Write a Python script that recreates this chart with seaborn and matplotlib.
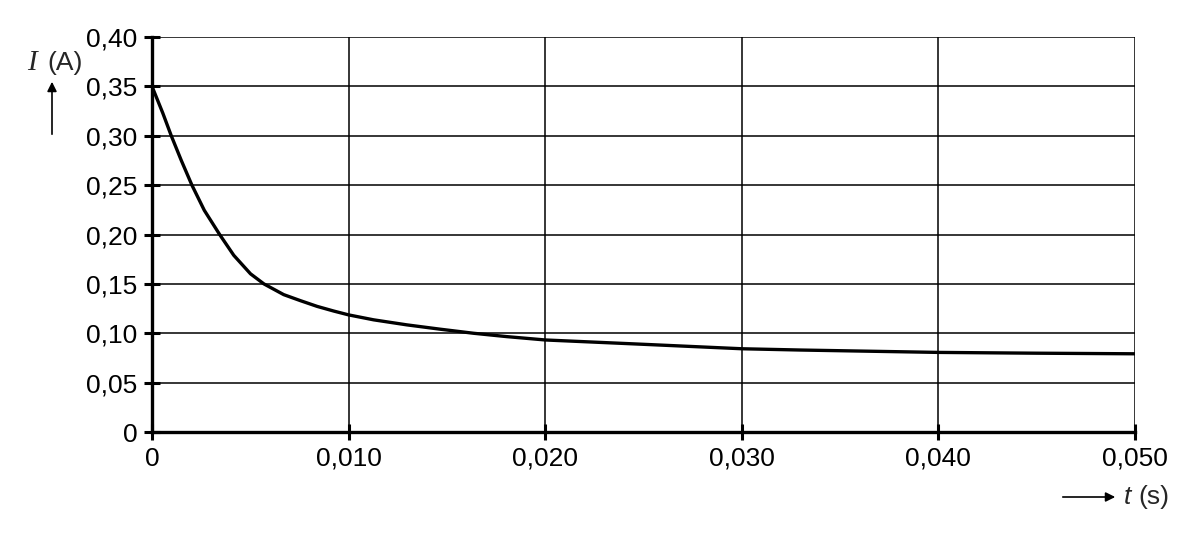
import numpy as np
import pandas as pd
import matplotlib
matplotlib.use("Agg")
import matplotlib.pyplot as plt
import seaborn as sns

# valores (tempo em s, corrente em A)
t_valores = [0.0, 0.00055, 0.00098, 0.00149, 0.00203, 0.00266, 0.00344, 0.00416,
             0.00501, 0.00569, 0.0067, 0.00755, 0.0084, 0.00924, 0.010, 0.01127,
             0.01296, 0.01466, 0.01635, 0.01804, 0.020, 0.025, 0.030, 0.033,
             0.040, 0.045, 0.050]
i_valores = [0.350, 0.3229, 0.300, 0.275, 0.250, 0.2245, 0.200, 0.1789,
             0.1602, 0.150, 0.1391, 0.1330, 0.1272, 0.1225, 0.1186, 0.1136,
             0.1085, 0.1041, 0.100, 0.0966, 0.0932, 0.0888, 0.0843, 0.0830,
             0.0806, 0.0798, 0.0792]

x_ticks = [0, 0.010, 0.020, 0.030, 0.040, 0.050]
x_labels = ["0", "0,010", "0,020", "0,030", "0,040", "0,050"]
y_ticks = [0, 0.05, 0.10, 0.15, 0.20, 0.25, 0.30, 0.35, 0.40]
y_labels = ["0", "0,05", "0,10", "0,15", "0,20", "0,25", "0,30", "0,35", "0,40"]

dados = pd.DataFrame({"t": t_valores, "I": i_valores})

sns.set_style("white")
plt.rcParams["font.family"] = ["Liberation Sans", "DejaVu Sans"]

fig = plt.figure(figsize=(11.98, 5.34), dpi=100)
ax = fig.add_axes([152 / 1198, 1 - 432 / 534, (1135 - 152) / 1198, (432 - 37) / 534])

# grade
for xt in x_ticks:
    ax.axvline(xt, color="black", lw=1.1, zorder=1)
for yt in y_ticks:
    ax.axhline(yt, color="black", lw=1.1, zorder=1)

sns.lineplot(data=dados, x="t", y="I", ax=ax, color="black", lw=2.4,
             estimator=None, sort=False, zorder=3)

ax.set_xlim(0, 0.050)
ax.set_ylim(0, 0.40)
ax.set_xticks(x_ticks)
ax.set_xticklabels(x_labels)
ax.set_yticks(y_ticks)
ax.set_yticklabels(y_labels)
ax.tick_params(axis="both", direction="inout", length=11, width=2.2,
               color="black", labelsize=19, labelcolor="black",
               bottom=True, left=True)
ax.tick_params(axis="x", pad=5)
ax.tick_params(axis="y", pad=5)
ax.set_xlabel("")
ax.set_ylabel("")

for lado in ["top", "right"]:
    ax.spines[lado].set_visible(False)
for lado in ["left", "bottom"]:
    ax.spines[lado].set_linewidth(2.4)
    ax.spines[lado].set_color("black")
    ax.spines[lado].set_zorder(4)

# rótulos dos eixos com setas
fig.text(27 / 1198, 1 - 63 / 534, "I", fontsize=21, family="Liberation Serif",
         style="italic", va="center", ha="left")
fig.text(47 / 1198, 1 - 63 / 534, "(A)", fontsize=19, va="center", ha="left")
fig.add_artist(matplotlib.patches.FancyArrowPatch(
    (52 / 1198, 1 - 137 / 534), (52 / 1198, 1 - 79 / 534),
    transform=fig.transFigure, arrowstyle="-|>", mutation_scale=14,
    color="black", lw=1.2))

fig.text(1124 / 1198, 1 - 497 / 534, "t", fontsize=19, style="italic",
         va="center", ha="left")
fig.text(1138 / 1198, 1 - 497 / 534, "(s)", fontsize=19, va="center", ha="left")
fig.add_artist(matplotlib.patches.FancyArrowPatch(
    (1060 / 1198, 1 - 497 / 534), (1118 / 1198, 1 - 497 / 534),
    transform=fig.transFigure, arrowstyle="-|>", mutation_scale=14,
    color="black", lw=1.2))

fig.savefig("out.png", dpi=100)
